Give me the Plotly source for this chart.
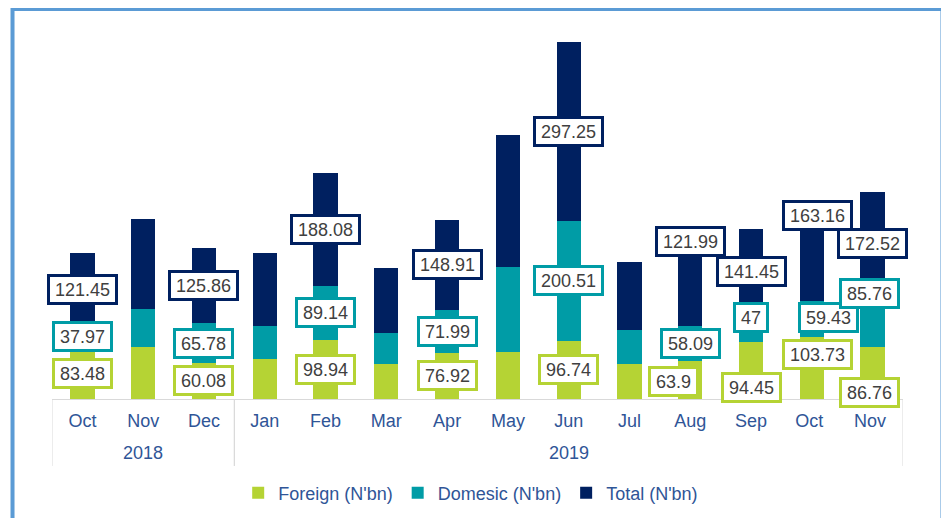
import plotly.graph_objects as go

# categories; the second Oct/Nov carry a trailing space so they stay distinct categories
months = ["Oct", "Nov", "Dec", "Jan", "Feb", "Mar", "Apr", "May", "Jun",
          "Jul", "Aug", "Sep", "Oct ", "Nov "]
years = ["2018", "2019"]
year_span = [(0, 2), (3, 13)]  # first / last month index of each year

# series values (N'bn); unlabelled months
foreign = [83.48, 86.6, 60.08, 67.0, 98.94, 58.0, 76.92, 78.0, 96.74,
           58.0, 63.9, 94.45, 103.73, 86.76]
domestic = [37.97, 63.4, 65.78, 54.5, 89.14, 51.5, 71.99, 142.0, 200.51,
            56.5, 58.09, 47, 59.43, 85.76]
total = [121.45, 150.0, 125.86, 121.5, 188.08, 109.5, 148.91, 220.0, 297.25,
         114.5, 121.99, 141.45, 163.16, 172.52]

# months whose values carry a data label in the source chart
labelled = [0, 2, 4, 6, 8, 10, 11, 12, 13]

C_FOR, C_DOM, C_TOT = "#B5D334", "#009CA6", "#002060"
AXIS_BLUE = "#2F5597"
GRID = "#D9D9D9"
FONT = "Liberation Sans, Arial, sans-serif"

# manual label nudges (px) that the original chart applied: (series, idx) -> (dx, dy)
nudge = {
    ("t", 10): (0, -48), ("f", 10): (-17, 2),
    ("d", 11): (0, -11), ("f", 11): (0, 17),
    ("t", 12): (6, -37), ("d", 12): (17, -1), ("f", 12): (6, -13),
    ("d", 13): (-3, -28), ("f", 13): (-3, 20),
    ("d", 0): (0, -1),
}

fig = go.Figure()
for name, vals, col in (("Foreign (N'bn)", foreign, C_FOR),
                        ("Domesic (N'bn)", domestic, C_DOM),
                        ("Total (N'bn)", total, C_TOT)):
    fig.add_trace(go.Bar(x=months, y=vals, name=name, marker=dict(color=col, line_width=0)))


def fmt(v):
    return f"{v:g}"


def text_w(s):
    # rough Arial width at 18px, used to widen label boxes a little
    return 18 * sum(0.278 if ch == "." else 0.556 for ch in s) + 6


for i in labelled:
    segs = [("f", foreign[i], 0, C_FOR),
            ("d", domestic[i], foreign[i], C_DOM),
            ("t", total[i], foreign[i] + domestic[i], C_TOT)]
    for key, v, base, col in segs:
        dx, dy = nudge.get((key, i), (0, 0))
        s = fmt(v)
        fig.add_annotation(
            x=months[i], y=base + v / 2, xref="x", yref="y", text=s, showarrow=False,
            xshift=dx, yshift=-dy, width=text_w(s), height=21,
            font=dict(family=FONT, size=18, color="#404040"),
            bgcolor="white", bordercolor=col, borderwidth=3, borderpad=2)

# year row under the month labels, with group dividers
for yr, (a, b) in zip(years, year_span):
    fig.add_annotation(x=(a + b) / 2, y=-0.15, xref="x", yref="paper", text=yr,
                       showarrow=False, yanchor="middle",
                       font=dict(family=FONT, size=18, color=AXIS_BLUE))
    for edge in (a - 0.5, b + 0.5):
        fig.add_shape(type="line", xref="x", yref="paper", x0=edge, x1=edge,
                      y0=0, y1=-0.186, line=dict(color=GRID, width=1))

# outer blue frame
fig.add_shape(type="rect", xref="paper", yref="paper",
              x0=-0.0464, x1=1.0464, y0=-0.40, y1=1.083,
              line=dict(color="#5B9BD5", width=4))

fig.update_layout(
    barmode="stack", bargap=0.6,
    width=941, height=510,
    margin=dict(l=44, r=46, t=31, b=119),
    paper_bgcolor="white", plot_bgcolor="white",
    font=dict(family=FONT, size=18, color=AXIS_BLUE),
    showlegend=True,
    legend=dict(orientation="h", x=0.492, xanchor="center",
                yref="container", y=0.049, yanchor="middle",
                font=dict(family=FONT, size=18, color=AXIS_BLUE), traceorder="normal"),
    xaxis=dict(type="category", showline=True, linecolor=GRID, linewidth=1,
               range=[-0.5, len(months) - 0.5], automargin=False,
               tickfont=dict(family=FONT, size=18, color=AXIS_BLUE),
               ticklabelstandoff=5, showgrid=False, ticks=""),
    yaxis=dict(range=[0, 600], visible=False, showgrid=False, zeroline=False,
               automargin=False),
)

fig.write_html("out.html")
